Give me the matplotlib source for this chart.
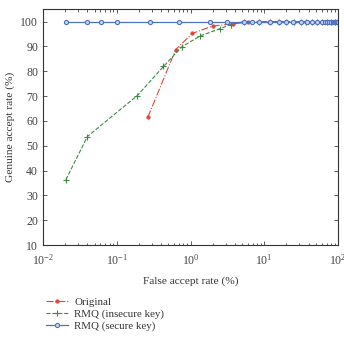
import matplotlib

matplotlib.use("Agg")
import matplotlib.pyplot as plt
import numpy as np

# false accept rate (%) / genuine accept rate (%)
orig_far = [0.264, 0.63, 1.05, 2.0, 3.8, 6.1, 11.7, 15.6, 20, 25, 31, 37, 45, 52, 61, 70, 80, 90, 100]
orig_gar = [61.5, 88.7, 95.2, 98.2, 99.1, 99.7, 100, 100, 100, 100, 100, 100, 100, 100, 100, 100, 100, 100, 100]

insec_far = [0.0204, 0.040, 0.19, 0.43, 0.76, 1.35, 2.5, 3.5, 5.3, 8.4, 12, 16, 20, 25, 31, 37, 45, 52, 61, 70, 80, 90, 100]
insec_gar = [36.3, 53.7, 70.2, 81.9, 89.8, 94.2, 97.1, 98.8, 100, 100, 100, 100, 100, 100, 100, 100, 100, 100, 100, 100, 100, 100, 100]

sec_far = [0.0205, 0.04, 0.061, 0.1, 0.28, 0.7, 1.85, 3.1, 5.3, 6.9, 8.4, 12.1, 15.6, 19.8, 24.7, 31, 37.4, 44.7,
           52, 61, 66, 71, 76, 81, 85, 89, 92, 95, 97, 99, 100]
sec_gar = [100] * len(sec_far)

plt.rcParams["font.family"] = ["Liberation Serif", "DejaVu Serif"]

fig = plt.figure(figsize=(3.44, 3.38), dpi=100)
ax = fig.add_axes([0.125, 0.275, 0.8576, 0.698])

ax.plot(orig_far, orig_gar, "-.", color="#e0473a", lw=0.8, marker="o", ms=2.5,
        markeredgewidth=0.5, label="Original")
ax.plot(insec_far, insec_gar, "--", color="#3d8a45", lw=0.8, marker="+", ms=4,
        markeredgewidth=0.8, label="RMQ (insecure key)")
ax.plot(sec_far, sec_gar, "-", color="#4d72c4", lw=0.9, marker="o", ms=3.0,
        markerfacecolor="#c8d4ee", markeredgewidth=0.8, label="RMQ (secure key)")

ax.set_xscale("log")
ax.set_xlim(1e-2, 1e2)
ax.set_ylim(10, 105)
ax.set_yticks(np.arange(10, 101, 10))
ax.tick_params(which="both", direction="in", top=True, right=True, labelsize=8.5,
               colors="#444444", width=0.6)
ax.tick_params(which="major", length=3)
ax.tick_params(which="minor", length=1.8)
ax.tick_params(axis="x", pad=6)
for s in ax.spines.values():
    s.set_linewidth(0.8)
    s.set_color("#333333")

ax.set_xlabel("False accept rate (%)", fontsize=8.2, color="#333333", labelpad=6)
ax.set_ylabel("Genuine accept rate (%)", fontsize=8.2, color="#333333", labelpad=4)

fig.legend(loc="center left", bbox_to_anchor=(0.105, 0.071), frameon=False, fontsize=7.8,
           handlelength=2.0, labelspacing=0.22, handletextpad=0.6, labelcolor="#333333")

fig.savefig("out.png", dpi=100)
